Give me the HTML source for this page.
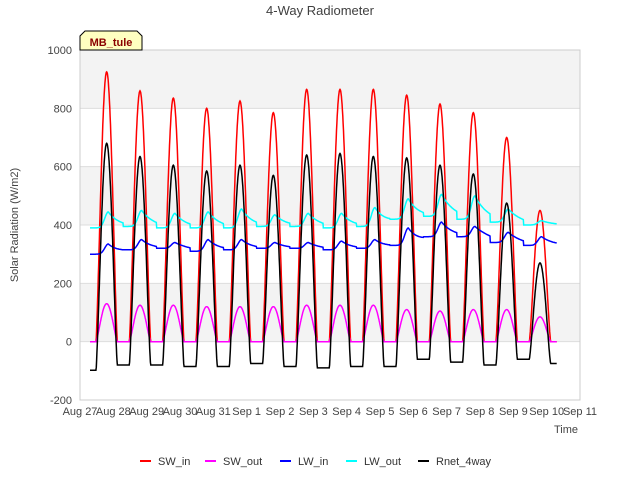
<!DOCTYPE html>
<html><head><meta charset="utf-8"><style>
body{margin:0;background:#fff;font-family:"Liberation Sans",sans-serif}
</style></head><body>
<svg id="chart" width="640" height="480" xmlns="http://www.w3.org/2000/svg" font-family="Liberation Sans, sans-serif">
<rect width="640" height="480" fill="#fff"/>
<text x="320" y="15" text-anchor="middle" font-size="13" fill="#404040">4-Way Radiometer</text>
<g id="bands"></g>
<g id="grid"></g>
<g id="series"></g>
<rect x="80" y="50" width="500" height="350" fill="none" stroke="#ccc"/>
<g id="xticks" font-size="11" fill="#444"></g>
<g id="yticks" font-size="11" fill="#444"></g>
<text x="18" y="225" transform="rotate(-90 18 225)" text-anchor="middle" font-size="11" fill="#444">Solar Radiation (W/m2)</text>
<text x="566" y="433" text-anchor="middle" font-size="11" fill="#444">Time</text>
<g>
<path d="M80,50 L80,36 L85,31 L137,31 L142,36 L142,50 Z" fill="#ffffc0" stroke="#000"/>
<text x="111" y="46" text-anchor="middle" font-size="11" font-weight="bold" fill="#8b0000">MB_tule</text>
</g>
<g id="legend" font-size="11" fill="#333"></g>
</svg>
<script>
const xLabels=["Aug 27","Aug 28","Aug 29","Aug 30","Aug 31","Sep 1","Sep 2","Sep 3","Sep 4","Sep 5","Sep 6","Sep 7","Sep 8","Sep 9","Sep 10","Sep 11"];
const yTicks=[-200,0,200,400,600,800,1000];
const swInPeak=[925,860,835,800,825,785,865,865,865,845,815,785,700,450];
const swOutPeak=[130,125,125,120,120,120,125,125,125,110,105,110,110,85];
const rnetPeak=[680,635,605,585,605,570,640,645,635,630,605,575,475,270];
const rnetNight=[-98,-80,-80,-85,-85,-75,-85,-90,-85,-85,-60,-70,-80,-60,-75];
const lwInBase=[300,315,320,310,315,320,320,315,320,330,360,360,340,330];
const lwInPeak=[335,350,340,350,350,340,340,345,350,390,410,395,375,360];
const lwOutBase=[390,395,390,390,390,395,395,390,395,420,430,420,410,400];
const lwOutPeak=[445,450,440,445,455,435,440,440,460,490,505,500,455,415];

const NS="http://www.w3.org/2000/svg";
const X=t=>80+t*500/15;
const Y=v=>341.67-v*350/1200;
function mk(tag,attrs,parent){const e=document.createElementNS(NS,tag);for(const k in attrs)e.setAttribute(k,attrs[k]);parent.appendChild(e);return e;}
const bands=document.getElementById('bands'),grid=document.getElementById('grid');
for(let v=-200;v<1000;v+=200){
  const idx=(v+200)/200;
  if(idx%2===1){const r=mk('rect',{x:80,y:Y(v+200),width:500,height:Y(v)-Y(v+200),fill:'#f3f3f3'},bands);
    
    }
}
const yt=document.getElementById('yticks');
yTicks.forEach(v=>{
  const l=mk('line',{x1:80,x2:580,y1:Y(v),y2:Y(v),stroke:'#ddd'},grid);
  
  
  const t=mk('text',{x:72,y:Y(v)+4,'text-anchor':'end'},yt);t.textContent=v;
  
  
});
const xt=document.getElementById('xticks');
xLabels.forEach((s,i)=>{
  const t=mk('text',{x:X(i),y:415,'text-anchor':'middle'},xt);t.textContent=s;
  
  
});
function dayInfo(t){let i=Math.round(t-0.8);if(i<0)i=0;if(i>13)i=13;const u=(t-(i+0.8))/0.32;
  const f=Math.abs(u)<1?Math.pow(Math.cos(u*Math.PI/2),1.3):0;return{i,u,f};}
function sw(pk){return t=>{const d=dayInfo(t);return pk[d.i]*d.f;}}
function rnet(t){const d=dayInfo(t);const n=d.u<0?rnetNight[d.i]:rnetNight[d.i+1];return n+(rnetPeak[d.i]-n)*d.f;}
function lw(base,peak){return t=>{const d=dayInfo(t);const dt=t-(d.i+0.85);
  const g=dt<0?Math.exp(-Math.pow(dt/0.15,2)):Math.exp(-dt/0.35);
  const nb=d.i<13?base[d.i+1]:base[d.i];const b=dt<0?base[d.i]:base[d.i]+(nb-base[d.i])*Math.min(1,dt/0.9);
  return b+(peak[d.i]-b)*g;}}
const seriesDefs=[
 {name:'SW_in',color:'#ff0000',fn:sw(swInPeak)},
 {name:'SW_out',color:'#ff00ff',fn:sw(swOutPeak)},
 {name:'LW_in',color:'#0000ff',fn:lw(lwInBase,lwInPeak)},
 {name:'LW_out',color:'#00ffff',fn:lw(lwOutBase,lwOutPeak)},
 {name:'Rnet_4way',color:'#000000',fn:rnet}];
const sg=document.getElementById('series');
seriesDefs.forEach(s=>{
  let d='';for(let t=0.3;t<=14.3;t+=1/96){d+=(d?'L':'M')+X(t).toFixed(1)+','+Y(s.fn(t)).toFixed(1);}
  const p=mk('path',{d,fill:'none',stroke:s.color,'stroke-width':1.5},sg);
  
  
});
const lg=document.getElementById('legend');
const lx=[140,205,280,346,418];
seriesDefs.forEach((s,k)=>{
  const g=mk('g',{},lg);
  
  
  mk('line',{x1:lx[k],x2:lx[k]+11,y1:461,y2:461,stroke:s.color,'stroke-width':2},g);
  const t=mk('text',{x:lx[k]+18,y:465},g);t.textContent=s.name;
});
</script>
</body></html>
